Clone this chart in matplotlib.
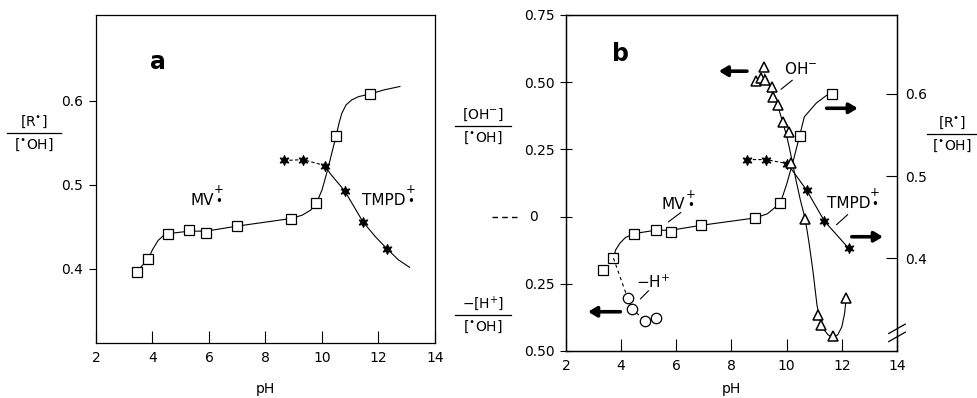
import matplotlib
matplotlib.use("Agg")
import matplotlib.pyplot as plt
from matplotlib.lines import Line2D

plt.rcParams['font.family'] = ['DejaVu Sans']
plt.rcParams['mathtext.fontset'] = 'dejavusans'

# ---- panel a : [R*]/[*OH] vs pH ----
mv_a_ph = [3.45, 3.85, 4.55, 5.3, 5.9, 7.0, 8.9, 9.8, 10.5, 11.7]
mv_a_val = [0.397, 0.412, 0.442, 0.446, 0.443, 0.451, 0.460, 0.478, 0.558, 0.608]
# fitted curve as drawn in the figure
mv_a_curve_ph = [3.45, 3.85, 4.0, 4.2, 4.4, 4.55, 5.3, 5.9, 7.0, 8.9, 9.3, 9.6, 9.8,
                 10.0, 10.2, 10.4, 10.5, 10.6, 10.7, 10.85, 11.05, 11.3, 11.7, 12.2, 12.76]
mv_a_curve_val = [0.397, 0.412, 0.423, 0.434, 0.440, 0.442, 0.445, 0.445, 0.451, 0.460,
                  0.464, 0.470, 0.478, 0.494, 0.518, 0.545, 0.558, 0.573, 0.585, 0.595,
                  0.601, 0.605, 0.608, 0.613, 0.617]

tmpd_a_ph = [8.65, 9.33, 10.1, 10.8, 11.45, 12.3]
tmpd_a_val = [0.529, 0.530, 0.523, 0.493, 0.456, 0.424]
tmpd_a_curve_ph = [10.1, 10.3, 10.55, 10.8, 11.1, 11.45, 11.9, 12.3, 12.7, 13.1]
tmpd_a_curve_val = [0.523, 0.513, 0.503, 0.493, 0.476, 0.456, 0.438, 0.424, 0.411, 0.402]

# ---- panel b ----
mv_b_ph = [3.35, 3.72, 4.48, 5.25, 5.8, 6.9, 8.86, 9.77, 10.47, 11.64]
mv_b_val = [0.385, 0.400, 0.430, 0.434, 0.432, 0.440, 0.449, 0.467, 0.549, 0.600]
mv_b_curve_ph = [3.72, 3.8, 3.95, 4.15, 4.48, 5.25, 5.8, 6.9, 8.86, 9.3, 9.77,
                 10.0, 10.25, 10.47, 10.64, 11.08, 11.48, 11.64]
mv_b_curve_val = [0.400, 0.410, 0.418, 0.425, 0.430, 0.434, 0.434, 0.440, 0.449, 0.454,
                  0.467, 0.490, 0.520, 0.549, 0.572, 0.589, 0.599, 0.600]

tmpd_b_ph = [8.57, 9.26, 10.03, 10.72, 11.37, 12.25]
tmpd_b_val = [0.520, 0.520, 0.515, 0.483, 0.445, 0.412]

oh_ph = [9.18, 8.89, 9.08, 9.22, 9.48, 9.51, 9.70, 9.85, 10.07, 10.17, 10.67,
         11.15, 11.26, 11.67, 12.14]
oh_val = [0.556, 0.504, 0.515, 0.507, 0.481, 0.444, 0.414, 0.351, 0.313, 0.200,
          -0.008, -0.366, -0.403, -0.444, -0.302]
oh_curve_ph = [9.2, 9.48, 9.7, 9.86, 10.0, 10.1, 10.2, 10.35, 10.5, 10.67, 10.8, 10.95,
               11.1, 11.2, 11.35, 11.5, 11.67, 11.85, 12.0, 12.1, 12.15]
oh_curve_val = [0.53, 0.468, 0.405, 0.35, 0.30, 0.255, 0.205, 0.13, 0.06, -0.008, -0.09,
                -0.20, -0.33, -0.38, -0.42, -0.44, -0.448, -0.44, -0.41, -0.36, -0.31]

h_ph = [4.23, 4.39, 4.88, 5.28]
h_val = [-0.302, -0.343, -0.388, -0.377]

W, H = 978, 398


def fx(x):
    return x / W


def fy(y):
    return 1 - y / H


fig = plt.figure(figsize=(9.78, 3.98), dpi=100)
ax_a = fig.add_axes([fx(96), fy(343), fx(435) - fx(96), fy(15) - fy(343)])
ax_b = fig.add_axes([fx(566), fy(351), fx(897) - fx(566), fy(15) - fy(351)])

sq = dict(marker='s', ms=7.5, mfc='white', mec='black', mew=0.9, ls='none', zorder=4)
st = dict(marker=(6, 1, 0), ms=7.5, mfc='black', mec='black', mew=0.6, ls='none', zorder=4)
tri = dict(marker='^', ms=6.5, mfc='white', mec='black', mew=1.1, ls='none', zorder=4)
circ = dict(marker='o', ms=7.5, mfc='white', mec='black', mew=0.9, ls='none', zorder=4)
lw = 0.8

radical_labels = []


def radical(ax, x, y, name, ha):
    # name; the "+" over a dot is added after a draw, at its upper right
    t = ax.text(x, y, name, fontsize=11, ha=ha, va='center')
    radical_labels.append(t)


# ---------- panel a ----------
ax_a.plot(mv_a_curve_ph, mv_a_curve_val, color='black', lw=lw)
ax_a.plot(mv_a_ph, mv_a_val, **sq)
ax_a.plot(tmpd_a_ph[:3], tmpd_a_val[:3], color='black', lw=lw, ls=(0, (3, 2)))
ax_a.plot(tmpd_a_curve_ph, tmpd_a_curve_val, color='black', lw=lw)
ax_a.plot(tmpd_a_ph, tmpd_a_val, **st)

ax_a.set_xlim(2, 14)
ax_a.set_ylim(0.312, 0.702)
ax_a.set_xticks(range(2, 15, 2))
ax_a.set_yticks([0.4, 0.5, 0.6])
ax_a.set_yticklabels(['0.4', '0.5', '0.6'])
ax_a.tick_params(axis='x', direction='in', length=9, width=0.8, labelsize=10, pad=6)
ax_a.tick_params(axis='y', direction='out', length=5, width=0.8, labelsize=10, pad=4)
ax_a.set_xlabel('pH', fontsize=10, labelpad=12)
for s in ax_a.spines.values():
    s.set_linewidth(0.9)

ax_a.text(4.19, 0.646, 'a', fontsize=17, fontweight='bold', ha='center', va='center')
radical(ax_a, 5.75, 0.482, 'MV', 'center')
radical(ax_a, 11.42, 0.482, 'TMPD', 'left')

# ---------- panel b ----------
ax_r = ax_b.twinx()
ax_b.set_zorder(ax_r.get_zorder() + 1)
ax_b.patch.set_visible(False)

ax_r.plot(mv_b_curve_ph, mv_b_curve_val, color='black', lw=lw)
ax_r.plot(mv_b_ph, mv_b_val, **sq)
ax_r.plot(tmpd_b_ph[:3], tmpd_b_val[:3], color='black', lw=lw, ls=(0, (3, 2)))
ax_r.plot(tmpd_b_ph[2:], tmpd_b_val[2:], color='black', lw=lw)
ax_r.plot(tmpd_b_ph, tmpd_b_val, **st)

ax_b.set_xlim(2, 14)
ax_b.set_ylim(-0.5, 0.75)
ax_r.set_ylim(0.287, 0.696)

# dashed link from the MV square at pH 3.72 down to the -H+ circles
p_disp = ax_r.transData.transform((mv_b_ph[1], mv_b_val[1]))
p_left = ax_b.transData.inverted().transform(p_disp)
ax_b.plot([p_left[0]] + h_ph, [p_left[1]] + h_val, color='black', lw=lw,
          ls=(0, (3, 3)))
ax_b.plot(h_ph, h_val, **circ)

ax_b.plot(oh_curve_ph, oh_curve_val, color='black', lw=lw)
ax_b.plot(oh_ph, oh_val, **tri)

ax_b.set_xticks(range(2, 15, 2))
ax_b.set_yticks([-0.5, -0.25, 0, 0.25, 0.5, 0.75])
ax_b.set_yticklabels(['0.50', '0.25', '', '0.25', '0.50', '0.75'])
ax_b.tick_params(axis='x', direction='in', length=9, width=0.8, labelsize=10, pad=6)
ax_b.tick_params(axis='y', direction='inout', length=8, width=0.8, labelsize=10, pad=4)
ax_r.set_yticks([0.4, 0.5, 0.6])
ax_r.set_yticklabels(['0.4', '0.5', '0.6'])
ax_r.tick_params(axis='y', direction='in', length=8, width=0.8, labelsize=10, pad=6)
ax_b.set_xlabel('pH', fontsize=10, labelpad=6)
for s in list(ax_b.spines.values()) + list(ax_r.spines.values()):
    s.set_linewidth(0.9)

ax_b.text(3.97, 0.604, 'b', fontsize=17, fontweight='bold', ha='center', va='center')
ax_b.text(9.9, 0.549, r'OH$^{-}$', fontsize=11, ha='left', va='center')
ax_b.plot([9.80, 10.2], [0.474, 0.507], color='black', lw=lw)
radical(ax_b, 5.9, 0.045, 'MV', 'center')
ax_b.plot([5.72, 6.16], [-0.019, 0.015], color='black', lw=lw)
radical(ax_b, 11.45, 0.05, 'TMPD', 'left')
ax_b.plot([11.81, 12.21], [-0.03, 0.007], color='black', lw=lw)
ax_b.text(4.52, -0.243, r'$-$H$^{+}$', fontsize=11, ha='left', va='center')
ax_b.plot([4.70, 4.99], [-0.306, -0.276], color='black', lw=lw)

arr = dict(arrowstyle='-|>,head_length=0.5,head_width=0.3', lw=2.6, color='black',
           shrinkA=0, shrinkB=0)
ax_b.annotate('', xy=(7.54, 0.541), xytext=(8.56, 0.541), arrowprops=arr)
ax_b.annotate('', xy=(2.80, -0.354), xytext=(3.97, -0.354), arrowprops=arr)
ax_b.annotate('', xy=(12.58, 0.403), xytext=(11.45, 0.403), arrowprops=arr)
ax_b.annotate('', xy=(13.49, -0.075), xytext=(12.36, -0.075), arrowprops=arr)

# axis break on the right spine
for dy in (-0.012, 0.012):
    ax_b.plot([0.975, 1.025], [0.040 + dy, 0.068 + dy], transform=ax_b.transAxes,
              color='black', lw=0.9, clip_on=False, zorder=6)

# "--- 0" on the left axis of b
fig.add_artist(Line2D([fx(492), fx(518)], [fy(217), fy(217)], color='black', lw=1.0,
                      ls=(0, (4, 3))))
fig.text(fx(534), fy(217), '0', fontsize=10, ha='center', va='center')


# fraction labels
def frac(cx, cy, top, bot, half):
    fig.text(fx(cx), fy(cy - 11), top, fontsize=10, ha='center', va='center')
    fig.text(fx(cx), fy(cy + 12), bot, fontsize=10, ha='center', va='center')
    fig.add_artist(Line2D([fx(cx - half), fx(cx + half)], [fy(cy), fy(cy)],
                          color='black', lw=0.9))


frac(34, 133, r'[R$^{\bullet}$]', r'[$^{\bullet}$OH]', 27)
frac(483, 126, r'[OH$^{-}$]', r'[$^{\bullet}$OH]', 28)
frac(483, 315, r'$-$[H$^{+}$]', r'[$^{\bullet}$OH]', 28)
frac(952, 134, r'[R$^{\bullet}$]', r'[$^{\bullet}$OH]', 25)

# put "+" over a dot after each radical name
fig.canvas.draw()
rend = fig.canvas.get_renderer()
for t in radical_labels:
    bb = t.get_window_extent(rend)
    fig.text((bb.x1 + 5) / W, (bb.y1 - 3) / H, '+\n•', fontsize=8.5, linespacing=0.85,
             ha='center', va='center')

fig.savefig('out.png', dpi=100)
